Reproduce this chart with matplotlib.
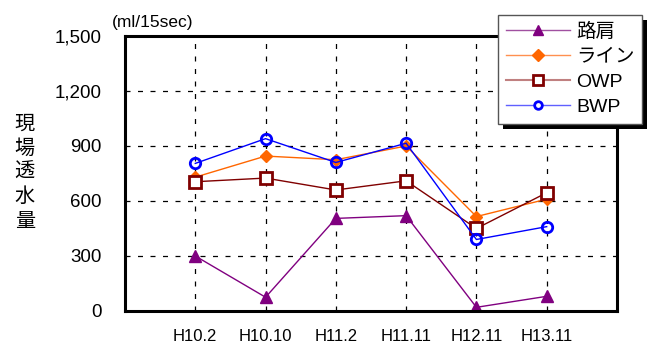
import matplotlib
matplotlib.use('Agg')
import matplotlib.pyplot as plt
from matplotlib.lines import Line2D
from matplotlib.patches import Rectangle
from matplotlib.ticker import FuncFormatter

plt.rcParams['font.family'] = ['Liberation Sans', 'Noto Sans CJK JP', 'DejaVu Sans']

# 調査時期
periods = ['H10.2', 'H10.10', 'H11.2', 'H11.11', 'H12.11', 'H13.11']

# 各位置の現場透水量 (ml/15sec)
roken = [300, 75, 505, 520, 20, 80]        # 路肩
line_pos = [730, 845, 825, 900, 515, 610]  # ライン
owp = [705, 725, 660, 710, 450, 645]       # OWP
bwp = [805, 940, 810, 915, 390, 460]       # BWP

names = ['路肩', 'ライン', 'OWP', 'BWP']
colors = ['#800080', '#FF6600', '#800000', '#0000FF']
light = ['#A050A0', '#FF9050', '#C08080', '#6060FF']

fig = plt.figure(figsize=(6.5, 3.45), dpi=100)
ax = fig.add_axes([0.1923, 0.0986, 0.7569, 0.7971])

x = list(range(1, len(periods) + 1))

ax.plot(x, roken, color=colors[0], lw=1, marker='^', ms=8,
        mfc=colors[0], mec=colors[0])
ax.plot(x, line_pos, color=colors[1], lw=1, marker='D', ms=6.5,
        mfc=colors[1], mec=colors[1])
ax.plot(x, owp, color=colors[2], lw=1, marker='s', ms=8,
        mfc='white', mec=colors[2], mew=2)
ax.plot(x, bwp, color=colors[3], lw=1, marker='o', ms=7.5,
        mfc='none', mec=colors[3], mew=2)

ax.set_xlim(0, len(periods) + 1)
ax.set_ylim(0, 1500)
ax.set_xticks(x)
ax.set_xticklabels(periods, fontsize=12)
ax.set_yticks([0, 300, 600, 900, 1200, 1500])
ax.yaxis.set_major_formatter(FuncFormatter(lambda v, p: f'{int(v):,}'))
ax.tick_params(axis='y', length=0, pad=17, labelsize=13.5)
ax.tick_params(axis='x', length=0, pad=13)

# 破線のグリッド
ax.grid(True, color='black', lw=0.9, linestyle=(0, (4, 6)))
for s in ax.spines.values():
    s.set_linewidth(2.2)

fig.text(0.038, 0.5, '\n'.join('現場透水量'), fontsize=14.5, ha='center',
         va='center', linespacing=1.35)
fig.text(0.172, 0.935, '(ml/15sec)', fontsize=12.5, ha='left', va='center')

# 凡例（マーカーは小さめ、線は薄め）
handles = [
    Line2D([], [], color=light[0], lw=1, marker='^', ms=7, mfc=colors[0], mec=colors[0]),
    Line2D([], [], color=light[1], lw=1, marker='D', ms=6, mfc=colors[1], mec=colors[1]),
    Line2D([], [], color=light[2], lw=1.5, marker='s', ms=6.5, mfc='white',
           mec=colors[2], mew=2),
    Line2D([], [], color=light[3], lw=1, marker='o', ms=5.5, mfc='white',
           mec=colors[3], mew=2),
]
leg = fig.legend(handles, names, loc='upper right',
                 bbox_to_anchor=(0.988, 0.957), fontsize=14,
                 fancybox=False, framealpha=1, edgecolor='#555555',
                 handlelength=3.3, handletextpad=0.3, borderpad=0.4,
                 labelspacing=0.38, borderaxespad=0)
leg.get_frame().set_linewidth(1)
leg.set_zorder(10)

# 凡例の黒い影
fig.canvas.draw()
bb = leg.get_window_extent().transformed(fig.transFigure.inverted())
dx, dy = 5 / 650, 5 / 345
fig.patches.append(Rectangle((bb.x0 + dx, bb.y0 - dy), bb.width, bb.height,
                             transform=fig.transFigure, facecolor='black',
                             edgecolor='none', zorder=9))

fig.savefig('out.png', dpi=100)
